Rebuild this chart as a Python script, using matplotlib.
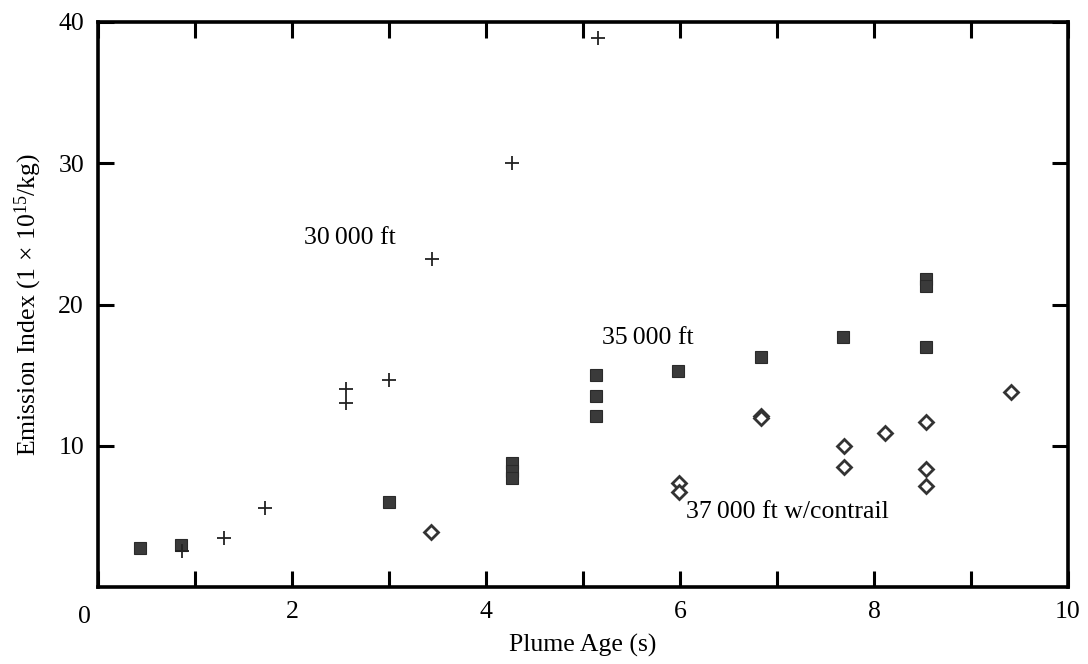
import matplotlib
matplotlib.use("Agg")
import matplotlib.pyplot as plt

plt.rcParams['font.family'] = ['Liberation Serif', 'DejaVu Serif']
plt.rcParams['mathtext.fontset'] = 'custom'
plt.rcParams['mathtext.rm'] = 'Liberation Serif'
plt.rcParams['mathtext.it'] = 'Liberation Serif:italic'

# 30 000 ft (crosses)
age_30k = [0.87, 1.30, 1.72, 2.56, 2.56, 3.00, 3.44, 4.27, 5.15]
ei_30k = [2.55, 3.45, 5.6, 14.0, 13.0, 14.65, 23.2, 30.05, 38.85]

# 35 000 ft (filled squares)
age_35k = [0.43, 0.86, 3.00, 4.27, 4.27, 4.27, 5.13, 5.13, 5.13, 5.98, 6.84, 7.68, 8.54, 8.54, 8.54]
ei_35k = [2.75, 3.0, 6.0, 8.8, 8.2, 7.7, 15.03, 13.55, 12.1, 15.27, 16.3, 17.7, 21.8, 21.3, 17.0]

# 37 000 ft w/contrail (open diamonds)
age_37k = [3.43, 5.99, 5.99, 6.84, 6.84, 7.69, 7.69, 8.11, 8.54, 8.54, 8.54, 9.41]
ei_37k = [3.88, 7.35, 6.7, 12.1, 11.95, 9.95, 8.49, 10.9, 11.68, 8.37, 7.16, 13.8]

xticks = [0, 2, 4, 6, 8, 10]
yticks = [10, 20, 30, 40]

FS = 18.5

fig = plt.figure(figsize=(10.88, 6.64), dpi=100)
ax = fig.add_axes([98/1088, 77/664, 970/1088, 565/664])

ax.plot(age_35k, ei_35k, linestyle='none', marker='s', markersize=8.8,
        markerfacecolor='#3a3a3a', markeredgecolor='#2a2a2a', markeredgewidth=0.8)
ax.plot(age_37k, ei_37k, linestyle='none', marker='D', markersize=7.2,
        markerfacecolor='white', markeredgecolor='#333333', markeredgewidth=2.0)
ax.plot(age_30k, ei_30k, linestyle='none', marker='+', markersize=10,
        color='#222222', markeredgewidth=1.3)

ax.set_xlim(0, 10)
ax.set_ylim(0, 40)

ax.set_xticks(range(0, 11))
ax.set_xticklabels(['' if (v % 2 or v == 0) else str(v) for v in range(0, 11)])
ax.set_yticks(yticks)
ax.set_yticklabels([str(v) for v in yticks])

ax.tick_params(axis='both', which='major', direction='in', length=11.5, width=2.2,
               top=True, right=True, labelsize=FS, pad=10, color='black')
for s in ax.spines.values():
    s.set_linewidth(2.6)

ax.text(-0.14, -0.034, '0', transform=ax.get_xaxis_transform(), ha='center', va='top', fontsize=FS)

ax.set_xlabel('Plume Age (s)', fontsize=FS, labelpad=8)
ax.set_ylabel(r'Emission Index (1 $\times$ 10$^{15}$/kg)', fontsize=FS, labelpad=10)

ax.text(2.12, 24.7, '30\u2009000 ft', fontsize=FS, ha='left', va='center')
ax.text(5.2, 17.6, '35\u2009000 ft', fontsize=FS, ha='left', va='center')
ax.text(6.06, 5.3, '37\u2009000 ft w/contrail', fontsize=FS, ha='left', va='center')

fig.savefig('out.png', dpi=100)
